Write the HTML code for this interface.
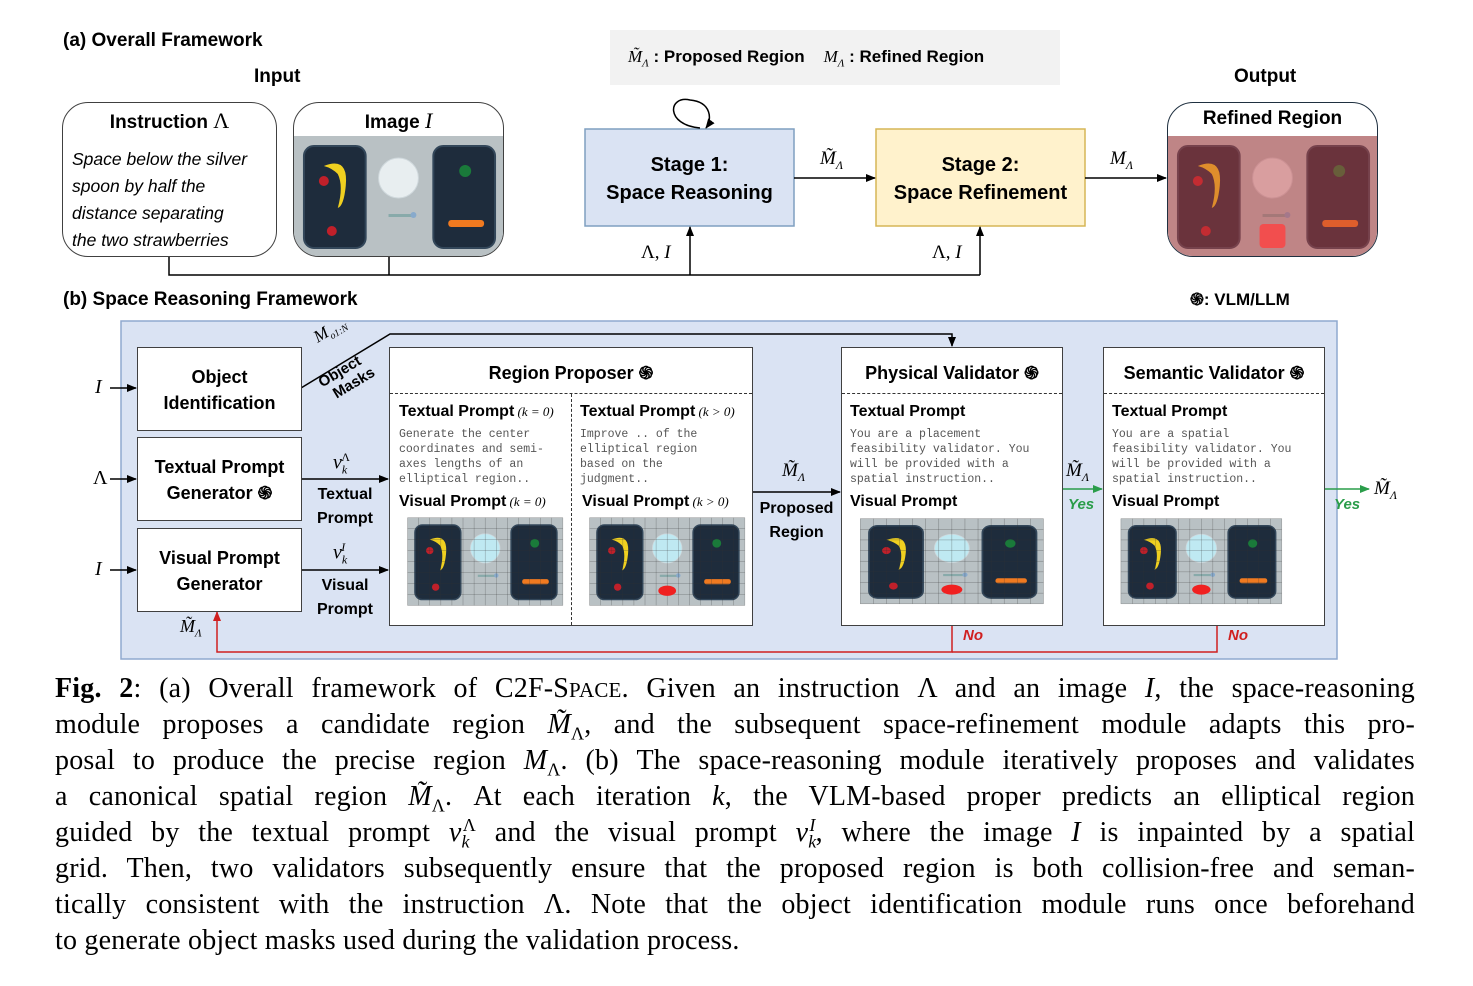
<!DOCTYPE html>
<html><head><meta charset="utf-8"><style>
body{margin:0;width:1473px;height:986px;background:#fff;position:relative;overflow:hidden;font-family:"Liberation Sans",sans-serif;}
.a{position:absolute;}
.b{font-weight:bold;}
.box{position:absolute;box-sizing:border-box;border:1.5px solid #404040;background:#fff;}
.t{position:absolute;font-weight:bold;font-size:17px;text-align:center;}
.mono{position:absolute;font-family:"Liberation Mono",monospace;font-size:11.5px;line-height:15px;color:#555;white-space:pre;}
.m{font-family:"Liberation Serif",serif;font-style:italic;}
.cap{position:absolute;left:55px;width:1360px;height:36px;font-family:"Liberation Serif",serif;font-size:28px;line-height:36px;letter-spacing:0.2px;text-align:justify;text-align-last:justify;white-space:nowrap;}
.cap sub,.cap sup{font-size:18px;line-height:0;}
.pic{position:absolute;}
</style></head><body>
<svg class="a" style="left:0;top:0" width="1473" height="986">
<defs><marker id="ar" markerWidth="10" markerHeight="8" refX="9" refY="4" orient="auto" markerUnits="userSpaceOnUse"><path d="M0,0L10,4L0,8z" fill="#000"/></marker>
<marker id="ag" markerWidth="10" markerHeight="8" refX="9" refY="4" orient="auto" markerUnits="userSpaceOnUse"><path d="M0,0L10,4L0,8z" fill="#2a9d4a"/></marker>
<marker id="arr" markerWidth="10" markerHeight="8" refX="9" refY="4" orient="auto" markerUnits="userSpaceOnUse"><path d="M0,0L10,4L0,8z" fill="#d02020"/></marker></defs>
<rect x="610" y="30" width="450" height="55" fill="#f2f2f2"/>
<rect x="121" y="321" width="1216" height="338" fill="#dae3f3" stroke="#8fa9cf" stroke-width="1.5"/>
<rect x="585" y="129" width="209" height="97" fill="#dae3f3" stroke="#7f9fc0" stroke-width="1.5"/>
<rect x="876" y="129" width="209" height="97" fill="#fff2cc" stroke="#d6b656" stroke-width="1.5"/>
<path d="M700,128 C665,125 668,95 690,100 C712,102 712,120 706,128" fill="none" stroke="#000" stroke-width="1.5" marker-end="url(#ar)"/>
<g stroke="#000" stroke-width="1.5" fill="none">
<line x1="794" y1="178" x2="875" y2="178" marker-end="url(#ar)"/>
<line x1="1085" y1="178" x2="1166" y2="178" marker-end="url(#ar)"/>
<polyline points="169,256 169,275 980,275"/>
<line x1="389" y1="256" x2="389" y2="275"/>
<line x1="690" y1="275" x2="690" y2="227" marker-end="url(#ar)"/>
<line x1="980" y1="275" x2="980" y2="227" marker-end="url(#ar)"/>
<line x1="110" y1="388" x2="136" y2="388" marker-end="url(#ar)"/>
<line x1="110" y1="479" x2="136" y2="479" marker-end="url(#ar)"/>
<line x1="110" y1="570" x2="136" y2="570" marker-end="url(#ar)"/>
<polyline points="301,388 390,334 952,334 952,346" marker-end="url(#ar)"/>
<line x1="301" y1="479" x2="388" y2="479" marker-end="url(#ar)"/>
<line x1="301" y1="570" x2="388" y2="570" marker-end="url(#ar)"/>
<line x1="752" y1="492" x2="840" y2="492" marker-end="url(#ar)"/>
</g>
<line x1="1062" y1="489" x2="1102" y2="489" stroke="#2a9d4a" stroke-width="1.5" marker-end="url(#ag)"/>
<line x1="1324" y1="489" x2="1369" y2="489" stroke="#2a9d4a" stroke-width="1.5" marker-end="url(#ag)"/>
<polyline points="952,625 952,652 217,652 217,612" fill="none" stroke="#d02020" stroke-width="1.5" marker-end="url(#arr)"/>
<polyline points="1217,625 1217,652 952,652" fill="none" stroke="#d02020" stroke-width="1.5"/>
</svg>

<div class="a b" style="left:63px;top:30px;font-size:19px">(a) Overall Framework</div>
<div class="a b" style="left:254px;top:66px;font-size:19px">Input</div>
<div class="a b" style="left:1234px;top:66px;font-size:19px">Output</div>
<div class="a b" style="left:628px;top:47px;font-size:17px"><span class="m" style="font-weight:normal">M̃</span><sub class="m" style="font-weight:normal;font-size:11px">Λ</sub> : Proposed Region &nbsp;&nbsp; <span class="m" style="font-weight:normal">M</span><sub class="m" style="font-weight:normal;font-size:11px">Λ</sub> : Refined Region</div>

<div class="box" style="left:62px;top:102px;width:215px;height:155px;border-radius:26px"></div>
<div class="t" style="left:62px;top:108px;width:215px;font-size:19px">Instruction <span class="m" style="font-weight:normal;font-style:normal;font-size:22px">Λ</span></div>
<div class="a" style="left:72px;top:146px;font-size:17.5px;font-style:italic;line-height:27px">Space below the silver<br>spoon by half the<br>distance separating<br>the two strawberries</div>

<div class="box" style="left:293px;top:102px;width:211px;height:155px;border-radius:26px;overflow:hidden"><div class="pic" data-k="p" style="left:0;top:33px;width:209px;height:120px"></div></div>
<div class="t" style="left:293px;top:108px;width:211px;font-size:19px">Image <span class="m" style="font-weight:normal;font-size:22px">I</span></div>

<div class="t" style="left:585px;top:151px;width:209px;font-size:20px;line-height:28px">Stage 1:<br>Space Reasoning</div>
<div class="t" style="left:876px;top:151px;width:209px;font-size:20px;line-height:28px">Stage 2:<br>Space Refinement</div>
<div class="a m" style="left:820px;top:148px;font-size:19px">M̃<sub style="font-size:12px">Λ</sub></div>
<div class="a m" style="left:1110px;top:148px;font-size:19px">M<sub style="font-size:12px">Λ</sub></div>
<div class="a m" style="left:641px;top:242px;font-size:19px;font-style:normal">Λ, <i>I</i></div>
<div class="a m" style="left:932px;top:242px;font-size:19px;font-style:normal">Λ, <i>I</i></div>

<div class="box" style="left:1167px;top:102px;width:211px;height:155px;border-radius:26px;overflow:hidden;border-color:#1f3040"><div class="pic" data-k="r" style="left:0;top:33px;width:209px;height:120px"></div></div>
<div class="t" style="left:1167px;top:108px;width:211px;font-size:19px">Refined Region</div>

<div class="a b" style="left:63px;top:289px;font-size:19px">(b) Space Reasoning Framework</div>
<div class="a b" style="left:1190px;top:287px;font-size:17px">֍: VLM/LLM</div>

<div class="a m" style="left:95px;top:376px;font-size:20px">I</div>
<div class="a m" style="left:93px;top:467px;font-size:20px;font-style:normal">Λ</div>
<div class="a m" style="left:95px;top:558px;font-size:20px">I</div>

<div class="box" style="left:137px;top:347px;width:165px;height:84px"></div>
<div class="t" style="left:137px;top:364px;width:165px;line-height:26px;font-size:18px">Object<br>Identification</div>
<div class="box" style="left:137px;top:437px;width:165px;height:84px"></div>
<div class="t" style="left:137px;top:454px;width:165px;line-height:26px;font-size:18px">Textual Prompt<br>Generator ֍</div>
<div class="box" style="left:137px;top:528px;width:165px;height:84px"></div>
<div class="t" style="left:137px;top:545px;width:165px;line-height:26px;font-size:18px">Visual Prompt<br>Generator</div>

<div class="a m" style="left:310px;top:330px;font-size:17px;transform:rotate(-31deg);transform-origin:left top">M<sub style="font-size:10px">o1:N</sub></div>
<div class="t" style="left:315px;top:362px;font-size:15px;line-height:17px;transform:rotate(-31deg)">Object<br>&nbsp;&nbsp;&nbsp;Masks</div>

<div class="a m" style="left:333px;top:450px;font-size:20px">ν<sub style="font-size:12px">k</sub><sup style="font-size:12px;margin-left:-6px;font-style:normal">Λ</sup></div>
<div class="t" style="left:305px;top:483px;width:80px;font-size:16px;line-height:24px">Textual<br>Prompt</div>
<div class="a m" style="left:333px;top:540px;font-size:20px">ν<sub style="font-size:12px">k</sub><sup style="font-size:12px;margin-left:-6px">I</sup></div>
<div class="t" style="left:305px;top:574px;width:80px;font-size:16px;line-height:24px">Visual<br>Prompt</div>

<div class="box" style="left:389px;top:347px;width:364px;height:279px"></div>
<div class="a" style="left:390px;top:393px;width:362px;border-top:1.5px dashed #333"></div>
<div class="a" style="left:571px;top:394px;height:231px;border-left:1.5px dashed #333"></div>
<div class="t" style="left:389px;top:361px;width:364px;font-size:18px">Region Proposer ֍</div>
<div class="a b" style="left:399px;top:403px;font-size:16px">Textual Prompt<span class="m" style="font-weight:normal;font-size:13px"> (k = 0)</span></div>
<div class="a b" style="left:580px;top:403px;font-size:16px">Textual Prompt<span class="m" style="font-weight:normal;font-size:13px"> (k &gt; 0)</span></div>
<div class="mono" style="left:399px;top:427px">Generate the center
coordinates and semi-
axes lengths of an
elliptical region..</div>
<div class="mono" style="left:580px;top:427px">Improve .. of the
elliptical region
based on the
judgment..</div>
<div class="a b" style="left:399px;top:493px;font-size:16px">Visual Prompt<span class="m" style="font-weight:normal;font-size:13px"> (k = 0)</span></div>
<div class="a b" style="left:582px;top:493px;font-size:16px">Visual Prompt<span class="m" style="font-weight:normal;font-size:13px"> (k &gt; 0)</span></div>
<div class="pic" data-k="g" style="left:398px;top:516px;width:167px;height:102px"></div>
<div class="pic" data-k="ge" style="left:580px;top:516px;width:167px;height:102px"></div>

<div class="a m" style="left:782px;top:460px;font-size:19px">M̃<sub style="font-size:12px">Λ</sub></div>
<div class="t" style="left:752px;top:497px;width:89px;font-size:16px;line-height:24px">Proposed<br>Region</div>

<div class="box" style="left:841px;top:347px;width:222px;height:279px"></div>
<div class="a" style="left:842px;top:393px;width:220px;border-top:1.5px dashed #333"></div>
<div class="t" style="left:841px;top:361px;width:222px;font-size:18px">Physical Validator ֍</div>
<div class="a b" style="left:850px;top:403px;font-size:16px">Textual Prompt</div>
<div class="mono" style="left:850px;top:427px">You are a placement
feasibility validator. You
will be provided with a
spatial instruction..</div>
<div class="a b" style="left:850px;top:493px;font-size:16px">Visual Prompt</div>
<div class="pic" data-k="ge" style="left:849px;top:517px;width:197px;height:99px"></div>

<div class="a m" style="left:1066px;top:460px;font-size:19px">M̃<sub style="font-size:12px">Λ</sub></div>
<div class="a b" style="left:1068px;top:496px;font-size:15px;font-style:italic;color:#2a9d4a">Yes</div>

<div class="box" style="left:1103px;top:347px;width:222px;height:279px"></div>
<div class="a" style="left:1104px;top:393px;width:220px;border-top:1.5px dashed #333"></div>
<div class="t" style="left:1103px;top:361px;width:222px;font-size:18px">Semantic Validator ֍</div>
<div class="a b" style="left:1112px;top:403px;font-size:16px">Textual Prompt</div>
<div class="mono" style="left:1112px;top:427px">You are a spatial
feasibility validator. You
will be provided with a
spatial instruction..</div>
<div class="a b" style="left:1112px;top:493px;font-size:16px">Visual Prompt</div>
<div class="pic" data-k="ge" style="left:1111px;top:517px;width:173px;height:99px"></div>

<div class="a b" style="left:1334px;top:496px;font-size:15px;font-style:italic;color:#2a9d4a">Yes</div>
<div class="a m" style="left:1374px;top:478px;font-size:19px">M̃<sub style="font-size:12px">Λ</sub></div>
<div class="a b" style="left:963px;top:627px;font-size:15px;font-style:italic;color:#d02020">No</div>
<div class="a b" style="left:1228px;top:627px;font-size:15px;font-style:italic;color:#d02020">No</div>
<div class="a m" style="left:180px;top:616px;font-size:18px">M̃<sub style="font-size:11px">Λ</sub></div>

<div class="cap" style="top:671px"><b>Fig. 2</b>: (a) Overall framework of C2F-S<span style="font-size:21px">PACE</span>. Given an instruction Λ and an image <i>I</i>, the space-reasoning</div>
<div class="cap" style="top:707px">module proposes a candidate region <i>M̃</i><sub>Λ</sub>, and the subsequent space-refinement module adapts this pro-</div>
<div class="cap" style="top:743px">posal to produce the precise region <i>M</i><sub>Λ</sub>. (b) The space-reasoning module iteratively proposes and validates</div>
<div class="cap" style="top:779px">a canonical spatial region <i>M̃</i><sub>Λ</sub>. At each iteration <i>k</i>, the VLM-based proper predicts an elliptical region</div>
<div class="cap" style="top:815px">guided by the textual prompt <i>ν</i><sub><i>k</i></sub><sup style="margin-left:-7px">Λ</sup> and the visual prompt <i>ν</i><sub><i>k</i></sub><sup style="margin-left:-7px"><i>I</i></sup>, where the image <i>I</i> is inpainted by a spatial</div>
<div class="cap" style="top:851px">grid. Then, two validators subsequently ensure that the proposed region is both collision-free and seman-</div>
<div class="cap" style="top:887px">tically consistent with the instruction Λ. Note that the object identification module runs once beforehand</div>
<div class="cap" style="top:923px;text-align-last:left">to generate object masks used during the validation process.</div>

<script>
function scene(k){
 var g=(k=='g'||k=='ge');
 var s='<svg width="100%" height="100%" viewBox="0 0 210 120" preserveAspectRatio="none">';
 s+='<rect width="210" height="120" fill="'+(g?'#fff':'#b8c3c9')+'"/>';
 var ox=g?12:0,oy=g?2:0,sx=g?0.93:1,sy=g?0.86:1;
 s+='<g transform="translate('+ox+','+oy+') scale('+sx+','+sy+')">';
 s+='<rect width="210" height="120" fill="#b9c1c4"/>';
 s+='<rect x="10" y="10" width="62" height="102" rx="10" fill="#1e2c3c" stroke="#33475a" stroke-width="2"/>';
 s+='<path d="M30,30 Q55,20 52,50 Q50,70 44,72 Q50,50 44,38 Q38,32 30,30z" fill="#f0d020"/>';
 s+='<circle cx="30" cy="45" r="5" fill="#c0202a"/><circle cx="38" cy="95" r="5" fill="#c0202a"/>';
 s+='<circle cx="105" cy="42" r="20" fill="'+(g?'#bfe9f2':'#e8eef0')+'" stroke="#cfd8dc"/>';
 s+='<rect x="95" y="78" width="24" height="3" fill="#8aa"/><circle cx="120" cy="79" r="3" fill="#8ac"/>';
 s+='<rect x="140" y="10" width="62" height="102" rx="10" fill="#1e2c3c" stroke="#33475a" stroke-width="2"/>';
 s+='<circle cx="172" cy="35" r="6" fill="#1a7a3a"/><rect x="155" y="84" width="36" height="7" rx="3" fill="#f07a20"/>';
 if(g){for(var i=0;i<=210;i+=15)s+='<line x1="'+i+'" y1="0" x2="'+i+'" y2="120" stroke="#333" stroke-width="0.5" opacity="0.6"/>';for(var j=0;j<=120;j+=15)s+='<line x1="0" y1="'+j+'" x2="210" y2="'+j+'" stroke="#333" stroke-width="0.5" opacity="0.6"/>';}
 if(k=='ge')s+='<ellipse cx="105" cy="100" rx="12" ry="7" fill="#f02020"/>';
 if(k=='r')s+='<rect width="210" height="120" fill="#c83c3c" opacity="0.45"/><rect x="92" y="88" width="26" height="24" rx="4" fill="#ff4040" opacity="0.8"/>';
 s+='</g></svg>';return s;}
document.querySelectorAll('.pic').forEach(function(e){e.innerHTML=scene(e.getAttribute('data-k'));});
</script>
</body></html>
